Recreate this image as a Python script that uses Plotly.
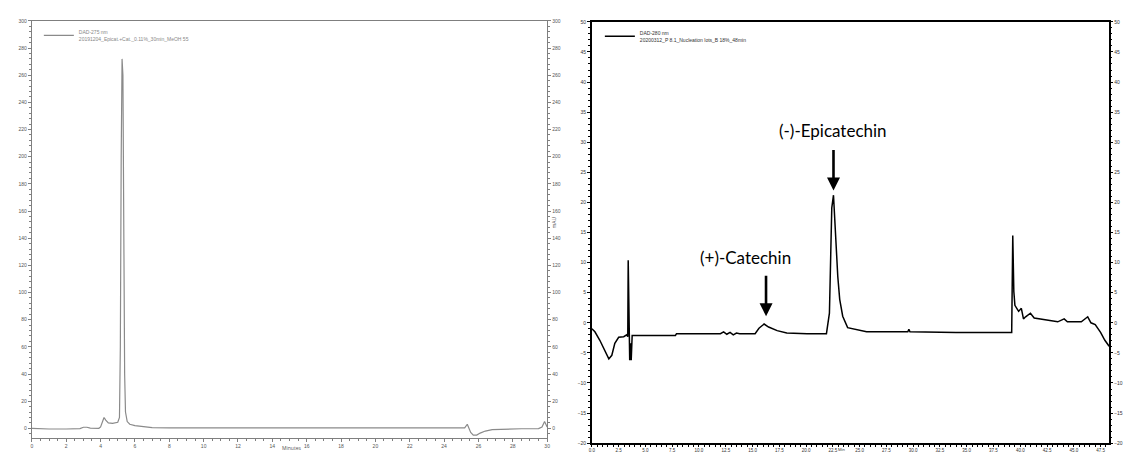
import plotly.graph_objects as go

# ---------------- Left chromatogram (DAD-275 nm) ----------------
left_time = [0.0, 0.5, 1.0, 2.0, 2.8, 3.0, 3.2, 3.4, 3.9, 4.0, 4.1, 4.2, 4.3, 4.45, 4.7, 5.0,
             5.1, 5.15, 5.2, 5.25, 5.3, 5.35, 5.4, 5.45, 5.55, 5.7, 6.0, 6.5, 7.0, 8.0, 10.0,
             12.0, 13.2, 14.0, 16.0, 18.0, 20.0, 22.0, 24.5, 25.2, 25.35, 25.45, 25.55, 25.7,
             25.9, 26.1, 26.4, 26.8, 27.5, 28.5, 29.5, 29.7, 29.85, 29.95, 30.0]
left_mau = [0.0, -0.3, -0.5, -0.5, -0.2, 0.8, 0.8, 0.2, 0.0, 1.0, 5.0, 8.0, 6.0, 4.0, 3.6, 4.5,
            8.0, 60.0, 200.0, 272.0, 260.0, 130.0, 40.0, 12.0, 5.0, 3.0, 2.0, 1.2, 0.5, 0.3, 0.3,
            0.2, 0.5, 0.3, 0.2, 0.2, 0.2, 0.2, 0.2, 0.3, 3.0, 0.0, -3.0, -5.0,
            -5.0, -3.5, -2.0, -1.0, -0.5, -0.3, -0.2, 1.0, 5.0, 2.0, 1.0]
left_name = "DAD-275 nm<br>20191204_Epicat.+Cat._0.11%_30min_MeOH 55"

# ---------------- Right chromatogram (DAD-280 nm) ----------------
right_time = [0.0, 0.28, 0.74, 1.21, 1.58, 1.86, 2.14, 2.5, 2.97, 3.25, 3.35, 3.39, 3.44, 3.48,
              3.53, 3.62, 3.67, 3.76, 4.28, 7.8, 7.9, 12.0, 12.3, 12.6, 12.9, 13.2, 13.5, 13.8,
              15.24, 15.6, 16.08, 16.5, 17.3, 18.2, 20.1, 21.9, 22.18, 22.26, 22.4, 22.56, 22.68,
              22.77, 22.96, 23.14, 23.42, 23.88, 24.7, 25.65, 28.4, 29.5, 29.6, 29.7, 34.0,
              39.03, 39.2, 39.3, 39.4, 39.5, 39.85, 40.1, 40.3, 40.5, 40.95, 41.3, 42.2, 43.5,
              44.1, 44.4, 45.7, 46.3, 46.6, 47.0, 47.5, 47.9, 48.3]
right_mau = [-1.0, -1.5, -2.9, -4.7, -6.0, -5.4, -3.4, -2.4, -2.3, -2.0, -2.3, 10.4, 2.8, -2.3,
             -6.2, -3.4, -6.2, -2.1, -2.1, -2.1, -1.8, -1.8, -1.5, -1.9, -1.6, -2.0, -1.7, -1.8,
             -1.8, -0.9, -0.2, -0.7, -1.3, -1.7, -1.8, -1.8, 1.6, 8.8, 19.1, 21.2, 16.9,
             13.0, 7.7, 3.9, 1.1, -0.8, -1.1, -1.5, -1.5, -1.5, -1.1, -1.5, -1.6,
             -1.6, -1.6, 14.5, 5.2, 2.9, 1.9, 2.4, 0.65, 1.0, 1.6, 0.8, 0.5, 0.16,
             0.65, 0.16, 0.16, 1.0, -0.0, -0.3, -1.6, -2.9, -3.9]
right_name = "DAD-280 nm<br>20200312_P 8.1_Nucleation lots_B 18%_48min"

# Peak labels
peak_labels = ["(+)-Catechin", "(-)-Epicatechin"]
peak_time = [16.26, 22.56]
peak_tip = [1.1, 22.0]
label_time = [14.3, 22.56]
label_mau = [10.9, 31.9]

W, H = 1131, 452
LEFT_GREY = "#7f7f7f"

fig = go.Figure()
fig.add_trace(go.Scatter(x=left_time, y=left_mau, mode="lines", name=left_name,
                         line=dict(color="#8a8a8a", width=1.2), xaxis="x", yaxis="y",
                         legend="legend"))
fig.add_trace(go.Scatter(x=right_time, y=right_mau, mode="lines", name=right_name,
                         line=dict(color="#000000", width=1.5), xaxis="x2", yaxis="y2",
                         legend="legend2"))
# transparent copies so that the right-hand mAU axes are drawn
fig.add_trace(go.Scatter(x=left_time, y=left_mau, mode="lines", showlegend=False,
                         hoverinfo="skip", line=dict(color="rgba(0,0,0,0)", width=0.1),
                         xaxis="x", yaxis="y3"))
fig.add_trace(go.Scatter(x=right_time, y=right_mau, mode="lines", showlegend=False,
                         hoverinfo="skip", line=dict(color="rgba(0,0,0,0)", width=0.1),
                         xaxis="x2", yaxis="y4"))

tickfont_l = dict(size=5, color="#555555", family="Liberation Sans")
tickfont_r = dict(size=5, color="#333333", family="Liberation Sans")


def px_x(p):
    return p / W


def px_y(p):
    return 1 - p / H


fig.update_layout(
    width=W, height=H,
    margin=dict(l=0, r=0, t=0, b=0),
    paper_bgcolor="white", plot_bgcolor="white",
    separators=",.",
    xaxis=dict(domain=[px_x(21), px_x(539)], range=[0, 30], anchor="y",
               tickmode="linear", tick0=0, dtick=2, ticks="outside", ticklen=3,
               tickcolor=LEFT_GREY, tickfont=tickfont_l, showline=True, linecolor=LEFT_GREY,
               linewidth=1, mirror=True, showgrid=False, zeroline=False,
               minor=dict(ticks="outside", ticklen=2, dtick=0.5, tickcolor=LEFT_GREY)),
    yaxis=dict(domain=[px_y(433), px_y(10)], range=[-7.3, 300], anchor="x",
               tickmode="linear", tick0=0, dtick=20, ticks="outside", ticklen=3,
               tickcolor=LEFT_GREY, tickfont=tickfont_l, showline=True, linecolor=LEFT_GREY,
               linewidth=1, mirror=True, showgrid=False, zeroline=False,
               minor=dict(ticks="outside", ticklen=2, dtick=4, tickcolor=LEFT_GREY)),
    yaxis3=dict(overlaying="y", side="right", anchor="x", range=[-7.3, 300],
                tickmode="linear", tick0=0, dtick=20, ticks="outside", ticklen=3,
                tickcolor=LEFT_GREY, tickfont=tickfont_l, showline=False, showgrid=False,
                zeroline=False,
                minor=dict(ticks="outside", ticklen=2, dtick=4, tickcolor=LEFT_GREY)),
    xaxis2=dict(domain=[px_x(584), px_x(1104)], range=[0, 48.3], anchor="y2",
                tickmode="linear", tick0=0, dtick=2.5, tickformat=".1f", ticks="outside",
                ticklen=2, tickcolor="#000", tickfont=dict(size=4.5, color="#333333",
                                                           family="Liberation Sans"),
                showline=True, linecolor="#000", linewidth=1.5, mirror=True, showgrid=False,
                zeroline=False,
                minor=dict(ticks="outside", ticklen=2, dtick=0.5, tickcolor="#000")),
    yaxis2=dict(domain=[px_y(438), px_y(11)], range=[-20, 50], anchor="x2",
                tickmode="linear", tick0=0, dtick=5, ticks="outside", ticklen=3,
                tickcolor="#000", tickfont=tickfont_r, showline=True, linecolor="#000",
                linewidth=1.5, mirror=True, showgrid=False, zeroline=False,
                minor=dict(ticks="outside", ticklen=2, dtick=1, tickcolor="#000")),
    yaxis4=dict(overlaying="y2", side="right", anchor="x2", range=[-20, 50],
                tickmode="linear", tick0=0, dtick=5, ticks="outside", ticklen=3,
                tickcolor="#000", tickfont=tickfont_r, showline=False, showgrid=False,
                zeroline=False,
                minor=dict(ticks="outside", ticklen=2, dtick=1, tickcolor="#000")),
    legend=dict(x=px_x(28), y=px_y(10), xanchor="left", yanchor="top",
                font=dict(size=5, color="#888888", family="Liberation Sans"),
                bgcolor="rgba(0,0,0,0)", itemwidth=30, tracegroupgap=0),
    legend2=dict(x=px_x(592), y=px_y(11), xanchor="left", yanchor="top",
                 font=dict(size=5, color="#333333", family="Liberation Sans"),
                 bgcolor="rgba(0,0,0,0)", itemwidth=30, tracegroupgap=0),
    showlegend=True,
)

annotations = []
# axis titles
annotations.append(dict(text="Minutes", x=px_x(270), y=px_y(448), xref="paper", yref="paper",
                        showarrow=False, font=dict(size=5, color="#555555")))
annotations.append(dict(text="mAU", x=px_x(546), y=px_y(214), xref="paper", yref="paper",
                        showarrow=False, textangle=-90, font=dict(size=5, color="#555555")))
annotations.append(dict(text="Min", x=px_x(841), y=px_y(449), xref="paper", yref="paper",
                        showarrow=False, font=dict(size=4, color="#333333")))
annotations.append(dict(text="mAU", x=px_x(1126), y=px_y(225), xref="paper", yref="paper",
                        showarrow=False, textangle=-90, font=dict(size=5, color="#333333")))

for lab, pt, tip, lt, lm in zip(peak_labels, peak_time, peak_tip, label_time, label_mau):
    annotations.append(dict(text=lab, x=lt, y=lm, xref="x2", yref="y2", showarrow=False,
                            font=dict(size=17, color="#000000", family="Lato")))
    annotations.append(dict(text="", x=pt, y=tip, xref="x2", yref="y2", showarrow=True,
                            arrowhead=2, arrowsize=1, arrowwidth=2.6, arrowcolor="#000000",
                            ax=0, ay=-42))

fig.update_layout(annotations=annotations)

fig.write_html("out.html")
